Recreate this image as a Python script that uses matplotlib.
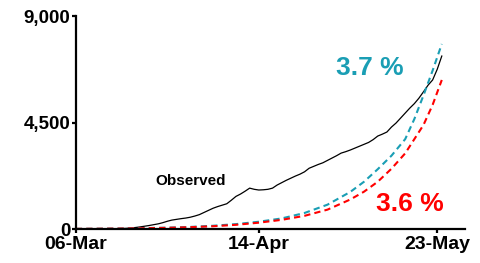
import matplotlib
matplotlib.use("Agg")
import matplotlib.pyplot as plt
from matplotlib.ticker import FuncFormatter

plt.rcParams['font.family'] = ['Liberation Sans', 'DejaVu Sans']
plt.rcParams['font.weight'] = 'bold'

# observed cumulative counts, one value per day from 06-Mar
obs_days = list(range(81))
observed = [0, 0, 0, 0, 0, 2, 4, 6, 10, 15,
            22, 30, 45, 65, 90, 120, 150, 185, 220, 270,
            330, 380, 410, 440, 465, 500, 550, 610, 700, 790,
            880, 950, 1010, 1070, 1220, 1380, 1480, 1600, 1730, 1680,
            1650, 1660, 1680, 1730, 1860, 1960, 2060, 2150, 2240, 2320,
            2420, 2570, 2650, 2730, 2800, 2900, 3000, 3100, 3210, 3270,
            3340, 3420, 3500, 3580, 3660, 3780, 3930, 4010, 4100, 4310,
            4480, 4690, 4900, 5110, 5300, 5530, 5800, 6080, 6300, 6750,
            7310]

# projected curves (read at selected days)
proj_days = [0, 5, 10, 15, 20, 25, 30, 35, 40, 45, 50, 55, 60, 63, 66, 69, 72, 74, 76, 78, 80]
growth_37 = [10, 15, 25, 40, 60, 90, 140, 210, 310, 450, 680, 1030, 1570, 2000, 2530, 3100,
             3800, 4650, 5650, 6700, 7820]
growth_36 = [10, 14, 22, 35, 52, 80, 120, 180, 270, 390, 560, 820, 1250, 1580, 2000, 2550,
             3200, 3800, 4400, 5250, 6300]

tick_pos = [0, 40, 79]
tick_labels = ['06-Mar', '14-Apr', '23-May']

cyan = '#1a9eb4'
red = '#ff0000'

fig = plt.figure(figsize=(4.8, 2.63), dpi=100)
ax = fig.add_axes([0.158, 0.129, 0.811, 0.81])

ax.plot(obs_days, observed, color='black', lw=0.9)
ax.plot(proj_days, growth_37, color=cyan, lw=1.5, dashes=(3, 2))
ax.plot(proj_days, growth_36, color=red, lw=1.5, dashes=(3, 2))

ax.text(17.3, 2030, 'Observed', fontsize=11, fontweight='bold', va='center', ha='left')
ax.text(64.3, 6800, '3.7 %', fontsize=19, fontweight='bold', color=cyan, va='center', ha='center')
ax.text(73, 1060, '3.6 %', fontsize=19, fontweight='bold', color=red, va='center', ha='center')

ax.set_xlim(0, 85.1)
ax.set_ylim(0, 9000)
ax.set_xticks(tick_pos)
ax.set_xticklabels(tick_labels)
ax.set_yticks([0, 4500, 9000])
ax.yaxis.set_major_formatter(FuncFormatter(lambda v, p: f'{int(v):,}'))

for s in ['top', 'right']:
    ax.spines[s].set_visible(False)
for s in ['left', 'bottom']:
    ax.spines[s].set_linewidth(1.6)
ax.tick_params(axis='both', length=3, width=1.6, labelsize=14)
ax.tick_params(axis='y', pad=1, labelsize=13.5)
ax.tick_params(axis='x', pad=2)

fig.savefig('out.png', dpi=100)
